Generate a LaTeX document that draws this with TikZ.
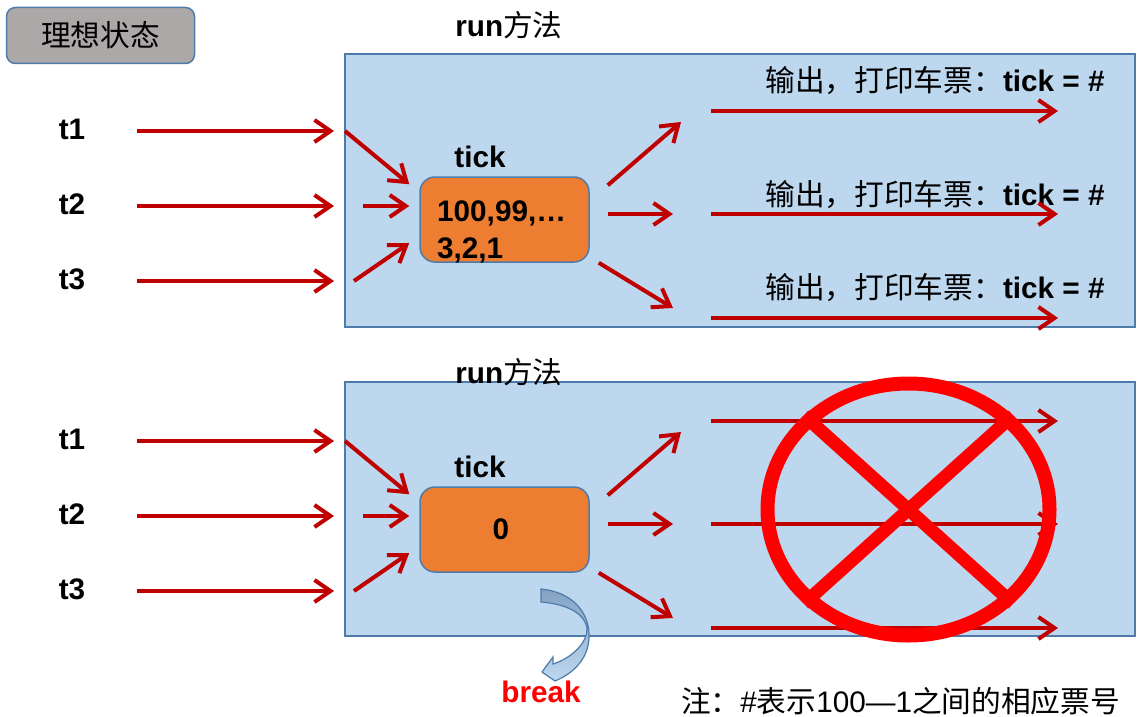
\documentclass[tikz,border=0pt]{standalone}
\usepackage{fontspec}
\setmainfont{Liberation Sans}
\newfontfamily\cjk{Noto Sans CJK SC}
\usetikzlibrary{arrows.meta, positioning, shapes.geometric}
\definecolor{panelblue}{HTML}{BDD7EE}
\definecolor{edgeblue}{HTML}{4F7BAA}
\definecolor{tickorange}{HTML}{ED7D31}
\definecolor{arrowred}{HTML}{C00000}
\definecolor{statusgray}{HTML}{ACA8A8}
\begin{document}
\begin{tikzpicture}[
        x=1pt, y=-1pt,
        txt/.style={inner sep=0pt, font=\fontsize{29.7}{37}\selectfont},
        bold/.style={txt, font=\fontsize{29.7}{37}\selectfont\bfseries},
        status/.style={rectangle, draw=edgeblue, line width=1.5pt, rounded corners=9pt, fill=statusgray,
                      minimum width=188pt, minimum height=56pt, inner sep=0pt},
        panel/.style={rectangle, draw=edgeblue, line width=1.5pt, fill=panelblue,
                      minimum width=790pt, inner sep=0pt},
        tickbox/.style={rectangle, draw=edgeblue, line width=1.5pt, rounded corners=15pt, fill=tickorange,
                      minimum width=169pt, minimum height=85pt, inner sep=0pt},
        arr/.style={-{Straight Barb[length=16pt, width=22pt, line width=4pt]}, line width=4pt, arrowred},
        ban/.style={ellipse, draw=red, line width=14pt, minimum width=282pt, minimum height=252pt, inner sep=0pt},
        crossbar/.style={draw=red, line width=13pt}
    ]
        \useasboundingbox (0,0) rectangle (1141,717);
        \fill[white] (0,0) rectangle (1141,717);

        % legend and panels
        \node[status] (state) at (100.5,35.5) {\fontsize{29.7}{37}\selectfont\cjk 理想状态};
        \node[panel, minimum height=273pt] (upper) at (740,190.5) {};
        \node[panel, minimum height=254pt] (lower) at (740,509) {};
        \node[bold] (run1) at (509,25) {run{\cjk\mdseries 方法}};
        \node[bold] (run2) at (509,372) {run{\cjk\mdseries 方法}};

        % upper panel
        \node[bold] (t1) at (72,129.5) {t1};
        \node[bold] (t2) at (72,204) {t2};
        \node[bold] (t3) at (72,279) {t3};
        \node[tickbox] (val1) at (504.5,219.5) {};
        \node[bold] (tick1) at (480,157) {tick};
        \node[bold, align=left, anchor=west] (nums) at (437,232) {100,99,…\\3,2,1};
        \node[txt] (out1) at (935,81) {{\cjk 输出，打印车票：}\textbf{tick = \#}};
        \node[txt] (out2) at (935,195) {{\cjk 输出，打印车票：}\textbf{tick = \#}};
        \node[txt] (out3) at (935,288) {{\cjk 输出，打印车票：}\textbf{tick = \#}};
        \coordinate (in1) at (334,131);
        \coordinate (in2) at (334,206);
        \coordinate (in3) at (334,281);
        \coordinate (a1) at (345,131);
        \coordinate (a2) at (363,206);
        \coordinate (a3) at (354,281);
        \coordinate (b1) at (681,122);
        \coordinate (b2) at (673,214);
        \coordinate (b3) at (673,308);
        \coordinate (c1) at (711,111);
        \coordinate (c2) at (711,214);
        \coordinate (c3) at (711,318);
        \coordinate (d1) at (1058,111);
        \coordinate (d2) at (1058,214);
        \coordinate (d3) at (1058,318);
        \draw[arr, shorten <=52pt] (t1.east |- in1) -- (in1);
        \draw[arr, shorten <=52pt] (t2.east |- in2) -- (in2);
        \draw[arr, shorten <=52pt] (t3.east |- in3) -- (in3);
        \draw[arr] (a1) -- ([xshift=-10pt, yshift=-8pt]val1.north west);
        \draw[arr] (a2) -- ([xshift=-10pt, yshift=13.5pt]val1.west);
        \draw[arr] (a3) -- ([xshift=-10pt, yshift=-23.5pt]val1.west);
        \draw[arr] ([xshift=18pt, yshift=-9pt]val1.north east) -- (b1);
        \draw[arr] ([xshift=18pt, yshift=5.5pt]val1.east) -- (b2);
        \draw[arr] ([xshift=9pt]val1.south east) -- (b3);
        \draw[arr] (c1) -- (d1);
        \draw[arr] (c2) -- (d2);
        \draw[arr] (c3) -- (d3);

        % lower panel
        \node[bold] (t4) at (72,439.5) {t1};
        \node[bold] (t5) at (72,514) {t2};
        \node[bold] (t6) at (72,589) {t3};
        \node[tickbox] (val2) at (504.5,529.5) {\hspace*{-7pt}\raisebox{-2pt}{\fontsize{29.7}{37}\selectfont\bfseries 0}};
        \node[bold] (tick2) at (480,467) {tick};
        \coordinate (in4) at (334,441);
        \coordinate (in5) at (334,516);
        \coordinate (in6) at (334,591);
        \coordinate (a4) at (345,441);
        \coordinate (a5) at (363,516);
        \coordinate (a6) at (354,591);
        \coordinate (b4) at (681,432);
        \coordinate (b5) at (673,524);
        \coordinate (b6) at (673,618);
        \coordinate (c4) at (711,421);
        \coordinate (c5) at (711,524);
        \coordinate (c6) at (711,628);
        \coordinate (d4) at (1058,421);
        \coordinate (d5) at (1058,524);
        \coordinate (d6) at (1058,628);
        \draw[arr, shorten <=52pt] (t4.east |- in4) -- (in4);
        \draw[arr, shorten <=52pt] (t5.east |- in5) -- (in5);
        \draw[arr, shorten <=52pt] (t6.east |- in6) -- (in6);
        \draw[arr] (a4) -- ([xshift=-10pt, yshift=-8pt]val2.north west);
        \draw[arr] (a5) -- ([xshift=-10pt, yshift=13.5pt]val2.west);
        \draw[arr] (a6) -- ([xshift=-10pt, yshift=-23.5pt]val2.west);
        \draw[arr] ([xshift=18pt, yshift=-9pt]val2.north east) -- (b4);
        \draw[arr] ([xshift=18pt, yshift=5.5pt]val2.east) -- (b5);
        \draw[arr] ([xshift=9pt]val2.south east) -- (b6);
        \draw[arr] (c4) -- (d4);
        \draw[arr] (c5) -- (d5);
        \draw[arr] (c6) -- (d6);

        % no more tickets
        \node[ban] (stop) at (908.5,509.5) {};
        \draw[crossbar] (stop.138) -- (stop.-42);
        \draw[crossbar] (stop.42) -- (stop.-138);

        % break arrow
        \draw[edgeblue, line width=1.2pt, top color=edgeblue!70, bottom color=panelblue]
            (541,589) .. controls (572,592) and (590,612) .. (589,638)
            .. controls (588,660) and (572,674) .. (555,681)
            -- (542,672) -- (553,657) -- (553,664)
            .. controls (572,658) and (588,642) .. (587,628)
            .. controls (584,612) and (565,604) .. (541,602) -- cycle;
        \node[bold, text=red] (brk) at (541,692) {break};
        \node[txt] (note) at (900.5,701) {{\cjk 注：}\#{\cjk 表示}100—1{\cjk 之间的相应票号}};
    \end{tikzpicture}
\end{document}
